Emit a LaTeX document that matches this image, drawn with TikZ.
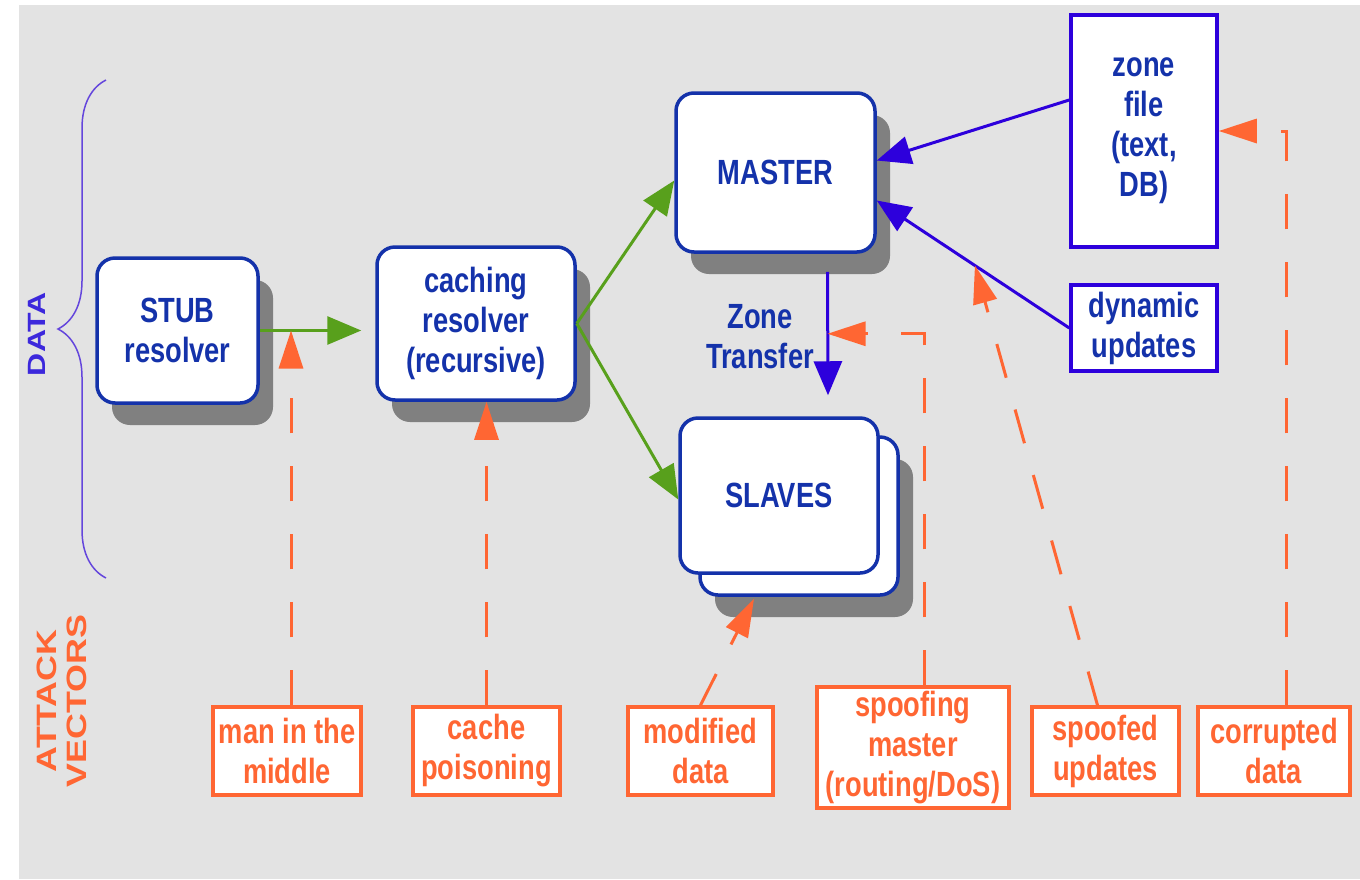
\documentclass[tikz,border=0pt]{standalone}
\usepackage{fontspec}
\newfontfamily\diagfont{Liberation Sans}[FakeStretch=0.78]
\newfontfamily\sidefont{Liberation Sans}[FakeStretch=1.28]
\usetikzlibrary{arrows.meta,shadows,calc,decorations.pathreplacing}
\definecolor{bggray}{RGB}{227,227,227}
\definecolor{shadegray}{RGB}{128,128,128}
\definecolor{dnsblue}{RGB}{20,50,170}
\definecolor{feedblue}{RGB}{45,0,220}
\definecolor{datablue}{RGB}{60,40,220}
\definecolor{bracepurple}{RGB}{100,70,220}
\definecolor{flowgreen}{RGB}{88,160,28}
\definecolor{attackorange}{RGB}{255,102,51}
\begin{document}
\begin{tikzpicture}[x=1pt, y=-1pt, font=\diagfont\bfseries\fontsize{35}{40}\selectfont,
        >={Triangle[length=34pt,width=28pt]},
        plainbox/.style={draw=dnsblue, line width=3.5pt, fill=white, rounded corners=18pt, text=dnsblue, align=center, inner sep=0pt},
        server/.style={plainbox, drop shadow={shadow xshift=15pt, shadow yshift=-22pt, opacity=1, fill=shadegray}},
        source/.style={draw=feedblue, line width=3.5pt, fill=white, text=dnsblue, align=center, inner sep=0pt, minimum width=146pt},
        attack/.style={draw=attackorange, line width=3.5pt, fill=white, text=attackorange, align=center, inner sep=0pt, minimum height=88pt},
        flow/.style={->, draw=flowgreen, line width=3pt},
        feed/.style={->, draw=feedblue, line width=3pt},
        attackline/.style={draw=attackorange, line width=3pt, dash pattern=on 35pt off 33pt, -{Triangle[length=38pt,width=24pt]}}]
      \useasboundingbox (0,0) rectangle (1360,879);
      \fill[bggray] (19,5) rectangle (1360,879);

      \draw[bracepurple, line width=1.5pt, decorate, decoration={brace, amplitude=48pt}] (106,578) -- (106,80);
      \node[rotate=90, text=datablue, font=\sidefont\bfseries\fontsize{25}{28}\selectfont] (datalabel) at (37,334) {DATA};
      \node[rotate=90, text=attackorange, align=center, font=\sidefont\bfseries\fontsize{28}{30}\selectfont] (vectorlabel) at (62,701) {ATTACK\\VECTORS};

      \node[server, minimum width=161pt, minimum height=145pt] (stub)    at (177.5,330.5) {STUB\\resolver};
      \node[server, minimum width=198pt, minimum height=153pt] (caching) at (476,323.5)   {caching\\resolver\\(recursive)};
      \node[server, minimum width=199pt, minimum height=159pt] (master)  at (775.5,172.5) {MASTER};
      \node[server, minimum width=198pt, minimum height=158pt] (slavesback) at (799,516) {};
      \node[plainbox, minimum width=198pt, minimum height=155pt] (slaves) at (779,495.5) {SLAVES};
      \node[source, minimum height=232pt] (zonefile) at (1144,131) {zone\\file\\(text,\\DB)};
      \node[source, minimum height=86pt]  (dynamic)  at (1144,328) {dynamic\\updates};
      \node[text=dnsblue, align=center] (xferlabel) at (760,337) {Zone\\Transfer};

      \node[attack, minimum width=148pt] (mitm)      at (287,751)    {man in the\\middle};
      \node[attack, minimum width=147pt] (poison)    at (486.5,751)  {cache\\poisoning};
      \node[attack, minimum width=145pt] (modified)  at (700.5,751)  {modified\\data};
      \node[attack, minimum width=192pt, minimum height=121pt] (spoofing) at (913,747.5) {spoofing\\master\\(routing/DoS)};
      \node[attack, minimum width=147pt] (spoofed)   at (1105.5,751) {spoofed\\updates};
      \node[attack, minimum width=152pt] (corrupted) at (1274,751)   {corrupted\\data};

      \draw[flow, shorten >=14pt] (stub.east) -- (stub.east -| caching.west);
      \draw[flow] (caching.east) -- ([yshift=-8pt]master.west);
      \draw[flow] (caching.east) -- ([yshift=-4pt]slaves.west);
      \draw[feed] ([yshift=31pt]zonefile.west) -- ([yshift=12pt]master.east);
      \draw[feed] (dynamic.west) -- ([yshift=-28pt]master.east);
      \draw[feed] ($(master.south)+(52,18)$) -- ($(slaves.north)+(49,-21)$);

      \coordinate (xferhit) at ($(master.south)+(52,80)$);
      \coordinate (dynhit) at ($(dynamic.west)!0.49!([yshift=-28pt]master.east)$);
      \draw[attackline] ([xshift=4pt]mitm.north) -- ([xshift=4pt]mitm.north |- stub.east);
      \draw[attackline] (poison.north) -- (poison.north |- caching.south);
      \draw[attackline] (modified.north) -- ([xshift=-45pt,yshift=-2pt]slavesback.south);
      \draw[attackline] ([xshift=11pt]spoofing.north) |- (xferhit);
      \draw[attackline] ([xshift=-8pt]spoofed.north) -- (dynhit);
      \draw[attackline] ([xshift=12pt]corrupted.north) |- (zonefile.east);
    \end{tikzpicture}
\end{document}
